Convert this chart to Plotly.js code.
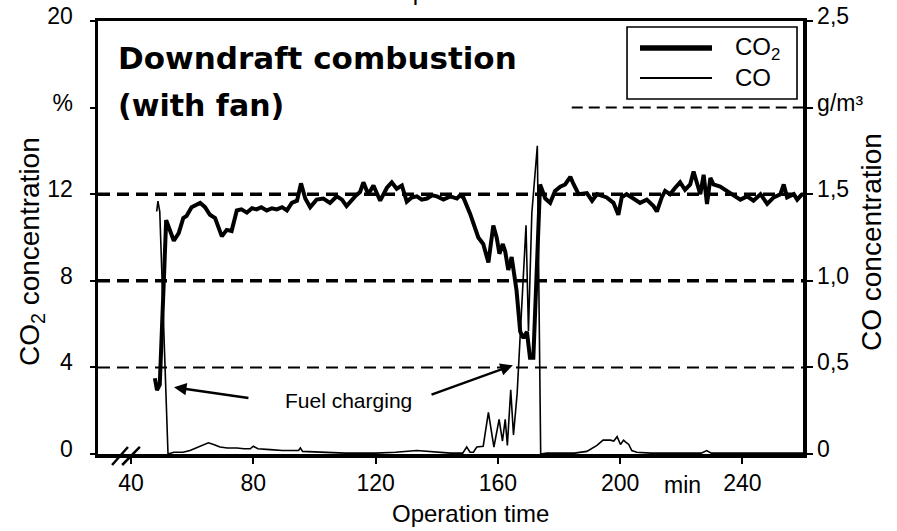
<!DOCTYPE html>
<html>
<head>
<meta charset="utf-8">
<script src="https://cdn.plot.ly/plotly-3.0.1.min.js"></script>
<style>html,body{margin:0;padding:0;background:#fff;}</style>
</head>
<body>
<div id="chart" style="width:897px;height:531px;"></div>
<script>
// CO2 concentration (%), left axis
const co2Time = [47.8,48.5,49.4,51.5,54.0,55.6,57.1,58.2,59.8,61.1,62.6,64.2,65.8,67.5,68.6,69.7,71.3,72.9,74.6,76.1,77.9,79.6,81.1,82.6,84.4,86.1,87.7,89.4,91.0,92.6,94.3,95.6,97.0,98.6,100.7,102.9,105.1,107.3,109.0,110.5,113.3,114.9,116.0,117.6,119.3,121.5,123.7,125.3,126.9,128.6,130.2,131.8,133.5,135.1,136.8,138.5,140.1,142.2,144.4,146.6,147.6,148.7,150.9,152.0,153.6,155.2,156.9,158.5,159.6,160.5,161.6,162.4,163.4,164.5,166.1,167.3,168.4,169.5,170.5,171.6,172.7,173.8,175.5,177.1,178.7,180.4,182.0,183.7,184.8,186.4,189.1,190.8,192.4,195.6,197.8,199.4,200.5,202.1,203.8,206.5,208.7,210.9,212.0,213.6,214.7,216.3,218.0,219.6,221.2,222.9,224.0,225.0,226.2,227.3,228.4,229.5,230.5,232.7,234.9,237.1,239.3,241.5,243.6,245.9,248.1,250.2,252.4,253.5,254.6,256.8,257.9,259.5];
const co2Value = [3.5,2.95,3.2,10.8,9.85,10.2,10.9,11.0,11.4,11.5,11.6,11.4,11.05,10.9,10.5,10.05,10.35,10.3,11.25,11.3,11.15,11.35,11.3,11.4,11.25,11.35,11.3,11.4,11.25,11.6,11.7,12.5,11.8,11.4,11.75,11.8,11.6,11.9,11.75,11.45,11.9,12.1,12.55,12.0,12.4,11.7,12.3,12.55,12.25,12.4,11.65,11.85,11.9,11.75,11.8,11.95,11.9,11.75,11.9,11.8,11.95,11.85,11.1,10.6,10.0,9.7,8.85,10.55,10.0,9.25,9.7,9.35,8.5,9.1,7.55,5.65,5.35,5.65,4.45,4.45,8.75,12.45,11.8,11.6,12.15,12.35,12.45,12.8,12.45,12.0,12.05,11.7,12.0,11.85,11.6,11.05,11.85,12.0,11.85,11.6,11.75,11.45,11.2,11.85,12.15,12.0,12.3,12.55,12.2,12.45,13.05,12.55,12.0,12.9,11.55,12.75,12.45,12.35,12.15,11.9,11.75,11.9,11.7,12.0,11.55,11.85,12.0,12.45,11.85,12.0,11.75,12.0];

// CO concentration (g/m³), right axis
const coTime = [48.4,48.8,49.4,52.1,54,57,59.3,62.0,63.6,65.3,67,69.1,71.5,74.6,77,79,80.0,81.5,85.5,89.5,94.8,95.4,96.1,101.5,110,120,126.5,133.5,137.5,144.5,148.5,149.8,150.9,152,153.1,154.7,155.2,156.9,158.7,160.4,161.5,162.4,163.1,164.2,165.1,166.3,167.3,168.2,169.2,170.0,171.1,172.9,174.0,176,180,185,189.1,192.4,194.4,196.8,197.9,199.0,200.1,201.1,201.7,202.8,203.8,205.4,210,220,226.5,228.3,229.8,240,250,260];
const coValue = [1.40,1.46,1.40,0.0,0.01,0.01,0.02,0.04,0.05,0.065,0.055,0.04,0.035,0.035,0.03,0.03,0.045,0.03,0.025,0.02,0.02,0.035,0.015,0.01,0.005,0.005,0.01,0.02,0.015,0.005,0.005,0.04,0.01,0.01,0.04,0.045,0.045,0.24,0.04,0.2,0.075,0.2,0.05,0.37,0.11,0.35,0.71,0.99,1.32,0.71,1.39,1.78,0.0,0.005,0.005,0.005,0.015,0.05,0.08,0.08,0.075,0.1,0.055,0.08,0.07,0.055,0.02,0.01,0.005,0.005,0.005,0.02,0.005,0.005,0.005,0.005];

const xTickVals = [40, 80, 120, 160, 200, 240];
const xTickText = ['40', '80', '120', '160', '200', '240'];
const leftTickVals = [0, 4, 8, 12, 16, 20];
const leftTickText = ['0', '4', '8', '12', '%', '20'];
const rightTickVals = [0, 0.5, 1.0, 1.5, 2.0, 2.5];
const rightTickText = ['0', '0,5', '1,0', '1,5', 'g/m³', '2,5'];
const gridLevels = [4, 8, 12];

const FONT = 'Liberation Sans, Arial, sans-serif';

const traces = [
  {x: co2Time, y: co2Value, type: 'scatter', mode: 'lines', yaxis: 'y',
   line: {color: '#000', width: 4}, showlegend: false, hoverinfo: 'skip'},
  {x: coTime, y: coValue, type: 'scatter', mode: 'lines', yaxis: 'y2',
   line: {color: '#000', width: 1.6}, showlegend: false, hoverinfo: 'skip'}
];

const shapes = [];
gridLevels.forEach(function (v) {
  shapes.push({type: 'line', xref: 'paper', x0: 0, x1: 1, yref: 'y', y0: v, y1: v, layer: 'below',
    line: {color: '#000', width: v === 4 ? 2 : 3.5, dash: '12px,7px'}});
});
// partial dashed line at g/m³ level
shapes.push({type: 'line', xref: 'paper', x0: 0.672, x1: 1, yref: 'y', y0: 16, y1: 16, layer: 'below',
  line: {color: '#000', width: 2, dash: '11px,6px'}});
// axis break marks
shapes.push({type: 'line', xref: 'x', yref: 'paper', x0: 33.8, x1: 39.0, y0: -0.0254, y1: 0.0162, line: {color: '#000', width: 2.5}});
shapes.push({type: 'line', xref: 'x', yref: 'paper', x0: 37.1, x1: 42.9, y0: -0.0254, y1: 0.0162, line: {color: '#000', width: 2.5}});
// legend box and samples
shapes.push({type: 'rect', xref: 'paper', yref: 'paper', x0: 0.7504, x1: 0.9915, y0: 0.8199, y1: 0.9861,
  line: {color: '#000', width: 1.6}, fillcolor: 'rgba(255,255,255,0)'});
shapes.push({type: 'line', xref: 'paper', yref: 'paper', x0: 0.7688, x1: 0.8709, y0: 0.9376, y1: 0.9376, line: {color: '#000', width: 5.5}});
shapes.push({type: 'line', xref: 'paper', yref: 'paper', x0: 0.7688, x1: 0.8709, y0: 0.8684, y1: 0.8684, line: {color: '#000', width: 2}});

const annotations = [
  {xref: 'paper', yref: 'paper', x: 0.0255, y: 0.9146, xanchor: 'left', yanchor: 'middle', showarrow: false,
   text: '<b>Downdraft combustion</b>', font: {family: 'DejaVu Sans', size: 31, color: '#000'}},
  {xref: 'paper', yref: 'paper', x: 0.0255, y: 0.806, xanchor: 'left', yanchor: 'middle', showarrow: false,
   text: '<b>(with fan)</b>', font: {family: 'DejaVu Sans', size: 30, color: '#000'}},
  {xref: 'paper', yref: 'paper', x: 0.9007, y: 0.9376, xanchor: 'left', yanchor: 'middle', showarrow: false,
   text: 'CO<sub>2</sub>', font: {family: FONT, size: 24, color: '#000'}},
  {xref: 'paper', yref: 'paper', x: 0.9007, y: 0.8684, xanchor: 'left', yanchor: 'middle', showarrow: false,
   text: 'CO', font: {family: FONT, size: 24, color: '#000'}},
  {xref: 'x', yref: 'y', x: 111, y: 2.49, xanchor: 'center', yanchor: 'middle', showarrow: false,
   text: 'Fuel charging', font: {family: FONT, size: 21, color: '#000'}},
  {xref: 'x', yref: 'y', x: 54.06, y: 3.08, axref: 'x', ayref: 'y', ax: 78.9, ay: 2.58, text: '',
   showarrow: true, arrowhead: 2, arrowsize: 1, arrowwidth: 2.5, arrowcolor: '#000', standoff: 0, startstandoff: 0},
  {xref: 'x', yref: 'y', x: 164.9, y: 4.1, axref: 'x', ayref: 'y', ax: 137.8, ay: 2.72, text: '',
   showarrow: true, arrowhead: 2, arrowsize: 1, arrowwidth: 2.5, arrowcolor: '#000', standoff: 0, startstandoff: 0},
  {xref: 'x', yref: 'paper', x: 220.5, y: -0.0716, xanchor: 'center', yanchor: 'middle', showarrow: false,
   text: 'min', font: {family: FONT, size: 23, color: '#000'}},
  // axis titles
  {xref: 'paper', yref: 'paper', x: 0.5277, y: -0.1375, xanchor: 'center', yanchor: 'middle', showarrow: false,
   text: 'Operation time', font: {family: FONT, size: 24, color: '#000'}},
  {xref: 'paper', yref: 'paper', x: -0.0950, y: 0.4665, xanchor: 'center', yanchor: 'middle', showarrow: false, textangle: -90,
   text: 'CO<sub>2</sub> concentration', font: {family: FONT, size: 28, color: '#000'}},
  {xref: 'paper', yref: 'paper', x: 1.0965, y: 0.4896, xanchor: 'center', yanchor: 'middle', showarrow: false, textangle: -90,
   text: 'CO concentration', font: {family: FONT, size: 28, color: '#000'}},
  // duplicated title cut off at the top edge
  {xref: 'paper', yref: 'paper', x: 0.5305, y: 1.067, xanchor: 'center', yanchor: 'middle', showarrow: false,
   text: 'Operation time', font: {family: FONT, size: 24, color: '#000'}}
];

const axisCommon = {
  showline: true, linecolor: '#000', linewidth: 3.5, showgrid: false, zeroline: false,
  ticks: 'outside', tickcolor: '#000', tickwidth: 2, ticklen: 5,
  tickfont: {family: FONT, size: 23, color: '#000'}, fixedrange: true
};

const layout = {
  width: 897, height: 531,
  margin: {l: 98, r: 94, t: 21, b: 77, pad: 0},
  paper_bgcolor: '#fff', plot_bgcolor: '#fff',
  font: {family: FONT, color: '#000', size: 23},
  showlegend: false,
  xaxis: Object.assign({}, axisCommon, {
    range: [29.2, 259.8], tickmode: 'array', tickvals: xTickVals, ticktext: xTickText, mirror: true,
    ticklen: 6
  }),
  yaxis: Object.assign({}, axisCommon, {
    range: [0, 20], tickmode: 'array', tickvals: leftTickVals, ticktext: leftTickText,
    ticklabelshift: -5, ticklabelstandoff: 12
  }),
  yaxis2: Object.assign({}, axisCommon, {
    range: [0, 2.5], overlaying: 'y', side: 'right', tickmode: 'array', tickvals: rightTickVals, ticktext: rightTickText,
    ticklen: 6, ticklabelshift: -5
  }),
  shapes: shapes,
  annotations: annotations
};

Plotly.newPlot('chart', traces, layout, {staticPlot: true, displayModeBar: false});
</script>
</body>
</html>
